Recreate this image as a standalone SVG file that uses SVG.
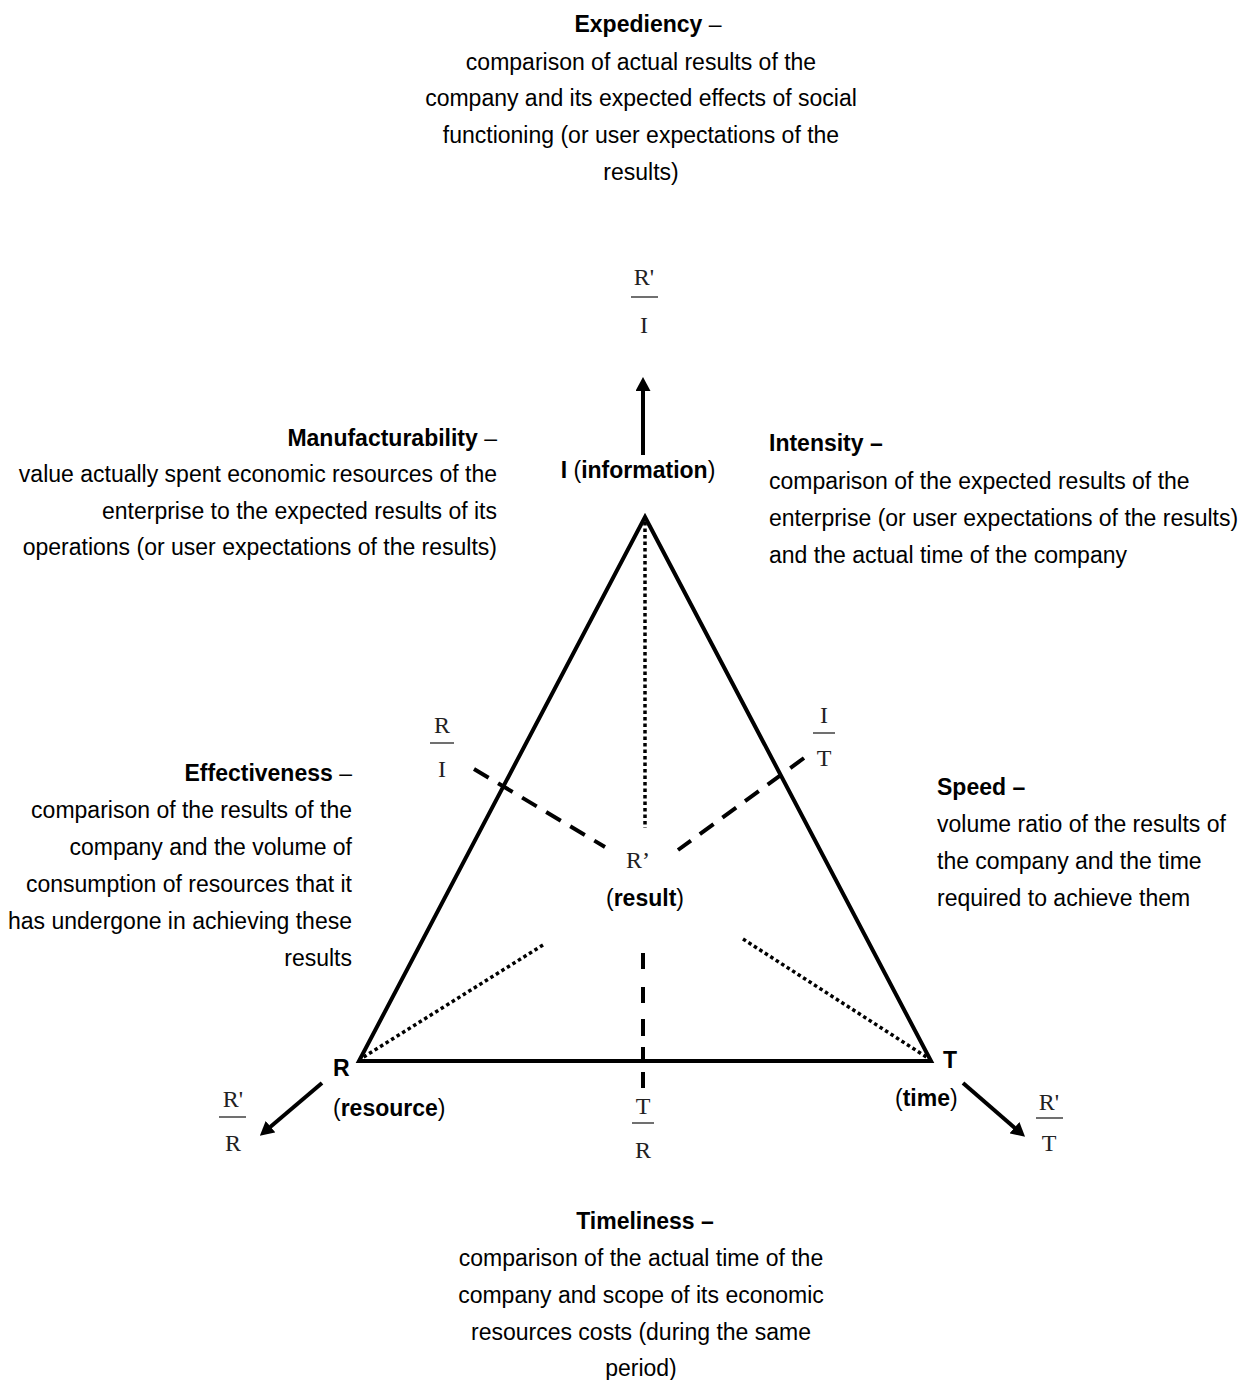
<svg xmlns="http://www.w3.org/2000/svg" width="1244" height="1380" viewBox="0 0 1244 1380">
<style>
.t{font-family:"Liberation Sans",Arial,sans-serif;font-size:23px;fill:#000}
.b{font-weight:bold}
.n{font-weight:normal}
.f{font-family:"Liberation Serif","Times New Roman",serif;font-size:24px;fill:#222}
.bar{stroke:#333;stroke-width:1.4}
.solid{stroke:#000;stroke-width:4;fill:none}
.dash{stroke:#000;stroke-width:4;fill:none;stroke-dasharray:17 11}
.dot{stroke:#000;stroke-width:3.5;fill:none;stroke-dasharray:3.5 3}
.arr{stroke:#000;stroke-width:4;fill:none;marker-end:url(#ah)}
</style>
<defs>
<marker id="ah" viewBox="0 0 14 15" markerWidth="14" markerHeight="15" markerUnits="userSpaceOnUse" refX="2" refY="7.5" orient="auto">
<path d="M0,0 L14,7.5 L0,15 z" fill="#000"/>
</marker>
</defs>

<g id="connectors">
<polygon class="solid" points="645,517 931,1061 359,1061" stroke-linejoin="miter"/>
<line class="dot" x1="645" y1="522" x2="645" y2="828"/>
<line class="dash" x1="474" y1="769" x2="605" y2="847"/>
<line class="dash" x1="804" y1="758" x2="678" y2="850"/>
<path class="solid" d="M643,953 V969 M643,987 V1003 M643,1019 V1036 M643,1047 V1063 M643,1072 V1088"/>
<line class="dot" x1="543" y1="945" x2="362" y2="1058"/>
<line class="dot" x1="743" y1="939" x2="928" y2="1058"/>
<line class="arr" x1="643" y1="455" x2="643" y2="389"/>
<line class="arr" x1="322" y1="1083" x2="269" y2="1128"/>
<line class="arr" x1="963" y1="1083" x2="1016" y2="1129"/>
</g>

<g id="expediency">
<text class="t" text-anchor="middle" x="648" y="32"><tspan class="b">Expediency</tspan> –</text>
<text class="t" text-anchor="middle" x="641" y="70">comparison of actual results of the</text>
<text class="t" text-anchor="middle" x="641" y="106">company and its expected effects of social</text>
<text class="t" text-anchor="middle" x="641" y="143">functioning (or user expectations of the</text>
<text class="t" text-anchor="middle" x="641" y="180">results)</text>
</g>

<g id="frac-RpI">
<text class="f" text-anchor="middle" x="644" y="285">R'</text>
<line class="bar" x1="631" y1="297" x2="658" y2="297"/>
<text class="f" text-anchor="middle" x="644" y="333">I</text>
</g>

<g id="node-I">
<text class="t" text-anchor="middle" x="638" y="478"><tspan class="b">I</tspan> (<tspan class="b">information</tspan>)</text>
</g>

<g id="manufacturability">
<text class="t" text-anchor="end" x="497" y="446"><tspan class="b">Manufacturability</tspan> –</text>
<text class="t" text-anchor="end" x="497" y="482">value actually spent economic resources of the</text>
<text class="t" text-anchor="end" x="497" y="519">enterprise to the expected results of its</text>
<text class="t" text-anchor="end" x="497" y="555">operations (or user expectations of the results)</text>
</g>

<g id="intensity">
<text class="t b" x="769" y="451">Intensity –</text>
<text class="t" x="769" y="489">comparison of the expected results of the</text>
<text class="t" x="769" y="526">enterprise (or user expectations of the results)</text>
<text class="t" x="769" y="563">and the actual time of the company</text>
</g>

<g id="frac-RI">
<text class="f" text-anchor="middle" x="442" y="733">R</text>
<line class="bar" x1="430" y1="743" x2="454" y2="743"/>
<text class="f" text-anchor="middle" x="442" y="777">I</text>
</g>

<g id="frac-IT">
<text class="f" text-anchor="middle" x="824" y="723">I</text>
<line class="bar" x1="813" y1="733" x2="835" y2="733"/>
<text class="f" text-anchor="middle" x="824" y="766">T</text>
</g>

<g id="effectiveness">
<text class="t" text-anchor="end" x="352" y="781"><tspan class="b">Effectiveness</tspan> –</text>
<text class="t" text-anchor="end" x="352" y="818">comparison of the results of the</text>
<text class="t" text-anchor="end" x="352" y="855">company and the volume of</text>
<text class="t" text-anchor="end" x="352" y="892">consumption of resources that it</text>
<text class="t" text-anchor="end" x="352" y="929">has undergone in achieving these</text>
<text class="t" text-anchor="end" x="352" y="966">results</text>
</g>

<g id="speed">
<text class="t b" x="937" y="795">Speed –</text>
<text class="t" x="937" y="832">volume ratio of the results of</text>
<text class="t" x="937" y="869">the company and the time</text>
<text class="t" x="937" y="906">required to achieve them</text>
</g>

<g id="node-result">
<text class="f" text-anchor="middle" x="638" y="868">R’</text>
<text class="t" text-anchor="middle" x="645" y="906">(<tspan class="b">result</tspan>)</text>
</g>

<g id="node-R">
<text class="t b" x="333" y="1076">R</text>
<text class="t" x="333" y="1116">(<tspan class="b">resource</tspan>)</text>
</g>

<g id="node-T">
<text class="t b" x="943" y="1068">T</text>
<text class="t" x="895" y="1106">(<tspan class="b">time</tspan>)</text>
</g>

<g id="frac-RpR">
<text class="f" text-anchor="middle" x="233" y="1107">R'</text>
<line class="bar" x1="219" y1="1117" x2="246" y2="1117"/>
<text class="f" text-anchor="middle" x="233" y="1151">R</text>
</g>

<g id="frac-TR">
<text class="f" text-anchor="middle" x="643" y="1114">T</text>
<line class="bar" x1="632" y1="1123" x2="654" y2="1123"/>
<text class="f" text-anchor="middle" x="643" y="1158">R</text>
</g>

<g id="frac-RpT">
<text class="f" text-anchor="middle" x="1049" y="1110">R'</text>
<line class="bar" x1="1036" y1="1118" x2="1063" y2="1118"/>
<text class="f" text-anchor="middle" x="1049" y="1151">T</text>
</g>

<g id="timeliness">
<text class="t b" text-anchor="middle" x="645" y="1229">Timeliness –</text>
<text class="t" text-anchor="middle" x="641" y="1266">comparison of the actual time of the</text>
<text class="t" text-anchor="middle" x="641" y="1303">company and scope of its economic</text>
<text class="t" text-anchor="middle" x="641" y="1340">resources costs (during the same</text>
<text class="t" text-anchor="middle" x="641" y="1376">period)</text>
</g>
</svg>
